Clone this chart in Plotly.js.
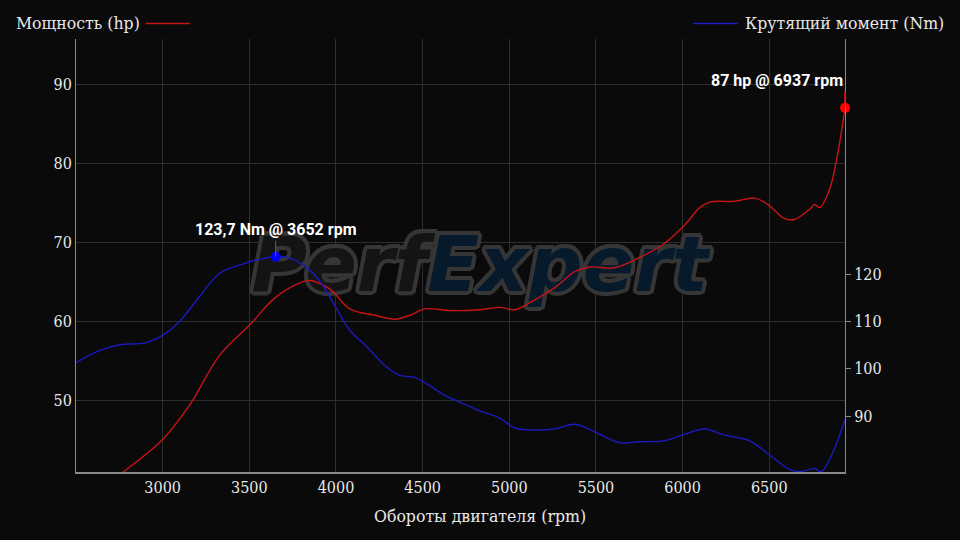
<!DOCTYPE html>
<html>
<head>
<meta charset="utf-8">
<script src="https://cdn.plot.ly/plotly-3.0.1.min.js"></script>
<style>html,body{margin:0;padding:0;background:#0a0a0a;}#chart{width:960px;height:540px;}</style>
</head>
<body>
<div id="chart"></div>
<script>
// Power curve (hp) vs rpm
const powerRpm = [2771, 3000, 3157, 3330, 3503, 3648, 3792, 3850, 3965, 4080, 4224, 4340, 4426, 4513, 4657, 4830, 4945, 5032, 5118, 5262, 5378, 5464, 5608, 5753, 5897, 6012, 6099, 6156, 6300, 6416, 6491, 6589, 6646, 6733, 6762, 6790, 6848, 6894, 6937];
const powerHp  = [41.0, 45.1, 49.5, 55.8, 59.6, 63.0, 64.9, 65.2, 64.1, 61.6, 60.8, 60.3, 60.8, 61.6, 61.4, 61.5, 61.8, 61.5, 62.4, 64.3, 66.3, 66.9, 66.8, 68.1, 69.9, 72.2, 74.4, 75.1, 75.2, 75.6, 74.8, 73.0, 72.9, 74.2, 74.8, 74.4, 76.7, 81.1, 87.0];
// Torque curve (Nm) vs rpm
const torqueRpm = [2500, 2638, 2754, 2898, 3013, 3100, 3215, 3330, 3474, 3590, 3652, 3734, 3820, 3907, 3994, 4080, 4167, 4282, 4369, 4455, 4513, 4628, 4743, 4830, 4945, 5032, 5118, 5262, 5378, 5493, 5637, 5753, 5897, 6012, 6128, 6243, 6387, 6502, 6618, 6675, 6762, 6802, 6860, 6937];
const torqueNm  = [101.3, 103.9, 105.1, 105.5, 107.4, 110.1, 115.4, 120.2, 122.3, 123.4, 123.7, 123.4, 121.7, 118.5, 113.3, 108.1, 105.1, 100.7, 98.6, 98.2, 97.1, 94.4, 92.5, 91.1, 89.6, 87.5, 87.1, 87.3, 88.3, 86.7, 84.4, 84.6, 84.8, 86.2, 87.3, 86.0, 84.8, 81.8, 78.7, 78.3, 78.9, 78.3, 81.8, 89.3];
// Peaks
const peakPower = {rpm: 6937, value: 87, label: "87 hp @ 6937 rpm"};
const peakTorque = {rpm: 3652, value: 123.7, label: "123,7 Nm @ 3652 rpm"};
// Axis ticks
const xTicks = [3000, 3500, 4000, 4500, 5000, 5500, 6000, 6500];
const hpTicks = [50, 60, 70, 80, 90];
const nmTicks = [90, 100, 110, 120];
const labels = {power: "Мощность (hp)", torque: "Крутящий момент (Nm)", x: "Обороты двигателя (rpm)", watermarkA: "Perf", watermarkB: "Expert"};
// Watermark anchor (centre of the plot, in axis units)
const watermarkAt = {rpm: 4830, hp: 66.3};

const serif = '"DejaVu Serif Condensed", "Liberation Serif", serif';
const sans = 'Roboto, "Liberation Sans", sans-serif';
function ring(c, r) {
  const s = [];
  for (let a = 0; a < 360; a += 30) {
    const dx = (r * Math.cos(a * Math.PI / 180)).toFixed(1);
    const dy = (r * Math.sin(a * Math.PI / 180)).toFixed(1);
    s.push(dx + 'px ' + dy + 'px 0 ' + c);
  }
  return s.join(', ');
}
const outline = ring('#363636', 4);

const traces = [
  {x: [watermarkAt.rpm], y: [watermarkAt.hp], type: 'scatter', mode: 'text', yaxis: 'y', hoverinfo: 'skip', cliponaxis: false,
   text: [labels.watermarkA + '<span style="fill:#071a2c">' + labels.watermarkB + '</span>'], textposition: 'middle center',
   textfont: {family: '"DejaVu Sans", sans-serif', size: 76, weight: 700, style: 'italic', color: '#141414', shadow: outline}},
  {x: powerRpm, y: powerHp, type: 'scatter', mode: 'lines', line: {color: '#c81414', width: 1.4, shape: 'spline', smoothing: 1}, yaxis: 'y', hoverinfo: 'skip'},
  {x: torqueRpm, y: torqueNm, type: 'scatter', mode: 'lines', line: {color: '#1a1ac0', width: 1.4, shape: 'spline', smoothing: 1}, yaxis: 'y2', hoverinfo: 'skip'},
  {x: [peakPower.rpm], y: [peakPower.value], type: 'scatter', mode: 'markers', marker: {color: '#ff0000', size: 10}, yaxis: 'y', cliponaxis: false},
  {x: [peakTorque.rpm], y: [peakTorque.value], type: 'scatter', mode: 'markers', marker: {color: '#0000ff', size: 10}, yaxis: 'y2', cliponaxis: false}
];

const layout = {
  width: 960, height: 540,
  paper_bgcolor: '#0a0a0a', plot_bgcolor: '#0a0a0a',
  margin: {l: 76, r: 115, t: 39, b: 68},
  showlegend: false,
  font: {family: serif, color: '#e8e8e8', size: 15},
  xaxis: {
    range: [2500, 6937], tickvals: xTicks, ticktext: xTicks.map(String),
    showgrid: true, gridcolor: '#2e2e2e', gridwidth: 1,
    showline: true, linecolor: '#8a8a8a', linewidth: 2, zeroline: false,
    ticks: '', tickfont: {family: serif, size: 16, color: '#e8e8e8'}
  },
  yaxis: {
    range: [41, 95.7], tickvals: hpTicks, ticktext: hpTicks.map(String),
    showgrid: true, gridcolor: '#2e2e2e', gridwidth: 1,
    showline: true, linecolor: '#8a8a8a', linewidth: 1, zeroline: false,
    ticks: '', tickfont: {family: serif, size: 16, color: '#e8e8e8'}
  },
  yaxis2: {
    range: [78.2, 169.7], overlaying: 'y', side: 'right', anchor: 'x',
    tickvals: nmTicks, ticktext: nmTicks.map(String),
    showgrid: false, showline: true, linecolor: '#8a8a8a', linewidth: 1, zeroline: false,
    ticks: 'outside', ticklen: 5, tickcolor: '#8a8a8a',
    tickfont: {family: serif, size: 16, color: '#e8e8e8'}
  },
  shapes: [
    {type: 'line', xref: 'paper', yref: 'paper', x0: 0.091, x1: 0.148, y0: 1.036, y1: 1.036, line: {color: '#c81414', width: 1.5}},
    {type: 'line', xref: 'paper', yref: 'paper', x0: 0.802, x1: 0.861, y0: 1.036, y1: 1.036, line: {color: '#1a1ac0', width: 1.5}}
  ],
  annotations: [
    {xref: 'paper', yref: 'paper', x: -0.0806, y: 1.036, xanchor: 'left', yanchor: 'middle', showarrow: false,
     text: labels.power, font: {family: serif, size: 17.5, color: '#e8e8e8'}},
    {xref: 'paper', yref: 'paper', x: 1.1313, y: 1.036, xanchor: 'right', yanchor: 'middle', showarrow: false,
     text: labels.torque, font: {family: serif, size: 17.5, color: '#e8e8e8'}},
    {xref: 'paper', yref: 'paper', x: 0.525, y: -0.1016, xanchor: 'center', yanchor: 'middle', showarrow: false,
     text: labels.x, font: {family: serif, size: 17.5, color: '#e8e8e8'}},
    {x: peakPower.rpm, y: peakPower.value, xref: 'x', yref: 'y', text: '<b>' + peakPower.label + '</b>',
     showarrow: true, arrowhead: 0, arrowwidth: 1.5, arrowcolor: '#ff0000', ax: 0, ay: -16, standoff: 0,
     xanchor: 'right', yanchor: 'bottom', font: {family: sans, size: 16, color: '#ffffff'}},
    {x: peakTorque.rpm, y: peakTorque.value, xref: 'x', yref: 'y2', text: '<b>' + peakTorque.label + '</b>',
     showarrow: true, arrowhead: 0, arrowwidth: 1, arrowcolor: '#4a5ab8', ax: 0, ay: -16, standoff: 0,
     xanchor: 'center', yanchor: 'bottom', font: {family: sans, size: 16, color: '#ffffff'}}
  ]
};

Plotly.newPlot('chart', traces, layout, {displayModeBar: false, staticPlot: true});
</script>
</body>
</html>
